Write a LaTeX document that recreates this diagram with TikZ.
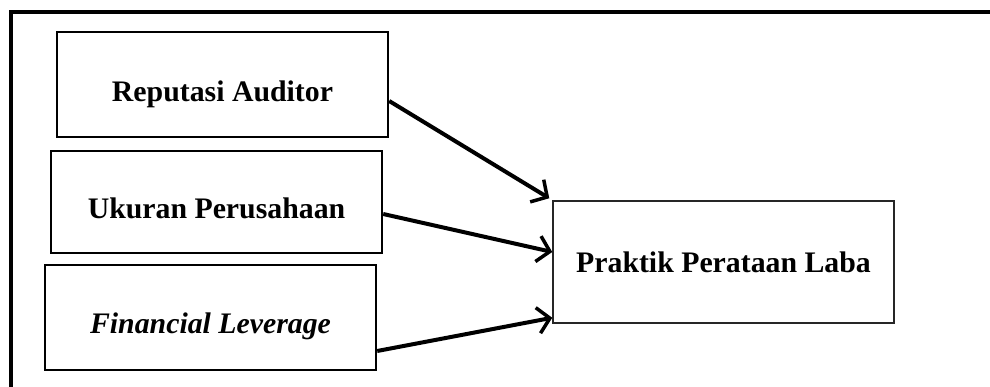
\documentclass[tikz,border=0pt]{standalone}
\usepackage{fontspec}
\setmainfont{Liberation Serif}
\usetikzlibrary{arrows.meta}

\begin{document}
\begin{tikzpicture}
    [
    x=1pt, y=-1pt
    , varbox/.style = {draw, line width=2.4pt, inner sep=0pt, minimum width=331pt, text height=34pt, text depth=0pt}
    , depbox/.style = {draw=black!85, line width=1.5pt, inner sep=0pt, minimum width=341pt, minimum height=122pt}
    , link/.style = {line width=4pt, -{Straight Barb[length=12pt,width=26pt,line width=3.5pt]}}
    , font=\fontsize{29.8}{34}\selectfont\bfseries
    ]
\clip (0,0) rectangle (990,387);
\fill[white] (0,0) rectangle (990,387);
% outer frame, cut off at right and bottom
\draw[line width=4pt] (11,400) -- (11,12.5) -- (1000,12.5);

\node[varbox, minimum height=105pt] (rep) at (222.5,84.5) {Reputasi Auditor};
\node[varbox, minimum height=102pt] (uk)  at (216.5,202) {Ukuran Perusahaan};
\node[varbox, minimum height=105pt, text height=31pt] (fin) at (210.5,317.5) {\itshape Financial Leverage};

\node[depbox] (prak) at (723.5,262) {Praktik Perataan Laba};

\draw[link] ([yshift=-16.5pt]rep.east) -- ([xshift=-3pt,yshift=2pt]prak.north west);
\draw[link] ([yshift=-12pt]uk.east) -- ([yshift=10pt]prak.west);
\draw[link] ([yshift=-33.5pt]fin.east) -- ([yshift=6pt]prak.south west);
\end{tikzpicture}
\end{document}
